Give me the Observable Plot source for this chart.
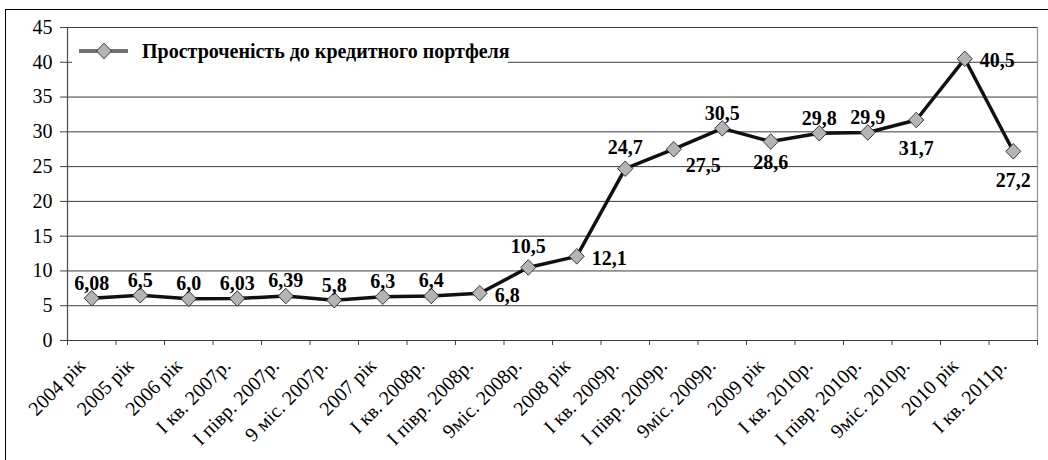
<!DOCTYPE html>
<html>
<head>
<meta charset="utf-8">
<script src="https://cdn.jsdelivr.net/npm/d3@7"></script>
<script src="https://cdn.jsdelivr.net/npm/@observablehq/plot@0.6"></script>
<style>
  html, body { margin: 0; padding: 0; background: #fff; }
  #page { position: relative; width: 1048px; height: 460px; overflow: hidden; background: #fff; }
  #outer { position: absolute; left: 5px; top: 9px; width: 1100px; height: 500px; border-left: 1px solid #000; border-top: 1px solid #000; }
  #chart { position: absolute; left: 0; top: 0; }
  #legend { position: absolute; background: #fff; display: flex; align-items: center; white-space: nowrap;
            font-family: "Liberation Serif", "Times New Roman", serif; font-weight: bold; font-size: 20px; color: #000; }
  #legend svg { display: block; flex: none; }
</style>
</head>
<body>
<div id="page">
  <div id="outer"></div>
  <div id="chart"></div>
</div>
<script>
const categories = ["2004 рік","2005 рік","2006 рік","I кв. 2007р.","I півр. 2007р.","9 міс. 2007р.","2007 рік","I кв. 2008р.","I півр. 2008р.","9міс. 2008р.","2008 рік","I кв. 2009р.","I півр. 2009р.","9міс. 2009р.","2009 рік","I кв. 2010р.","I півр. 2010р.","9міс. 2010р.","2010 рік","I кв. 2011р."];
const values = [6.08, 6.5, 6.0, 6.03, 6.39, 5.8, 6.3, 6.4, 6.8, 10.5, 12.1, 24.7, 27.5, 30.5, 28.6, 29.8, 29.9, 31.7, 40.5, 27.2];
const valueLabels = ["6,08","6,5","6,0","6,03","6,39","5,8","6,3","6,4","6,8","10,5","12,1","24,7","27,5","30,5","28,6","29,8","29,9","31,7","40,5","27,2"];
const labelPlacement = ["above","above","above","above","above","above","above","above","right","aboveFar","right","aboveFar","belowRight","above","below","above","above","belowFar","right","belowFar"];
const yTicks = [0, 5, 10, 15, 20, 25, 30, 35, 40, 45];
const seriesName = "Простроченість до кредитного портфеля";

const W = 1048;
const n = categories.length;
const data = values.map((v, i) => ({i, v, label: valueLabels[i], pos: labelPlacement[i]}));

const HW = 7.5, HH = 7.8;
const diamond = {
  draw(ctx) {
    ctx.moveTo(0, -HH); ctx.lineTo(HW, 0); ctx.lineTo(0, HH); ctx.lineTo(-HW, 0); ctx.closePath();
  }
};

const serif = "Liberation Serif, Times New Roman, serif";
const labelFont = {fontFamily: serif, fontWeight: "bold", fontSize: 20, fill: "#000"};
const place = {
  above: {dy: -15},
  aboveFar: {dy: -21},
  below: {dy: 21},
  belowFar: {dy: 29},
  right: {textAnchor: "start", dx: 15, dy: 2},
  belowRight: {textAnchor: "start", dx: 12, dy: 16}
};

const chart = Plot.plot({
  width: W,
  height: 460,
  marginLeft: 67,
  marginRight: 11,
  marginTop: 27,
  marginBottom: 120,
  style: {fontFamily: serif, fontSize: "20px", background: "transparent", overflow: "visible", color: "#000"},
  x: {domain: [-0.5, n - 0.5], axis: null},
  y: {domain: [0, 45], axis: null},
  marks: [
    Plot.ruleY(yTicks, {stroke: "#3c3c3c", strokeWidth: 1}),
    Plot.ruleX([-0.5], {stroke: "#555", strokeWidth: 1.3}),
    Plot.ruleX([n - 0.5], {stroke: "#999", strokeWidth: 1.3}),
    Plot.axisY({ticks: yTicks, tickSize: 7, tickPadding: 8, fontSize: 20, stroke: "#444", label: null}),
    Plot.axisX(d3.range(n + 1).map(i => i - 0.5), {tickSize: 5, tickFormat: () => "", stroke: "#444", label: null}),
    Plot.axisX(d3.range(n), {tickSize: 0, tickPadding: 22, dx: -10, tickRotate: -45, tickFormat: i => categories[i], fontSize: 20, label: null}),
    Plot.line(data, {x: "i", y: "v", stroke: "#111", strokeWidth: 3.5, strokeLinejoin: "round"}),
    Plot.dot(data, {x: "i", y: "v", symbol: diamond, r: 5, fill: "#b4b4b4", stroke: "#3a3a3a", strokeWidth: 1}),
    ...Object.entries(place).map(([key, opts]) =>
      Plot.text(data.filter(d => d.pos === key), {x: "i", y: "v", text: "label", ...labelFont, ...opts}))
  ]
});

const holder = document.getElementById("chart");
holder.appendChild(chart);

// legend (inside the plot area, over a white box)
const legend = document.createElement("div");
legend.id = "legend";
legend.style.left = "72px";
legend.style.top = "39px";
legend.style.height = "24px";
legend.style.width = (508 - 72) + "px";
const ls = d3.create("svg").attr("width", 56).attr("height", 24);
const lx0 = 79 - 72, lx1 = 128 - 72, lxm = 104 - 72, ly = 12;
ls.append("line").attr("x1", lx0).attr("x2", lx1).attr("y1", ly).attr("y2", ly).attr("stroke", "#707070").attr("stroke-width", 4);
ls.append("path").attr("d", `M${lxm},${ly - HH}L${lxm + HW},${ly}L${lxm},${ly + HH}L${lxm - HW},${ly}Z`).attr("fill", "#b4b4b4").attr("stroke", "#3a3a3a");
legend.appendChild(ls.node());
const lt = document.createElement("span");
lt.textContent = seriesName;
lt.style.marginLeft = (142 - 128) + "px";
legend.appendChild(lt);
holder.appendChild(legend);
</script>
</body>
</html>
